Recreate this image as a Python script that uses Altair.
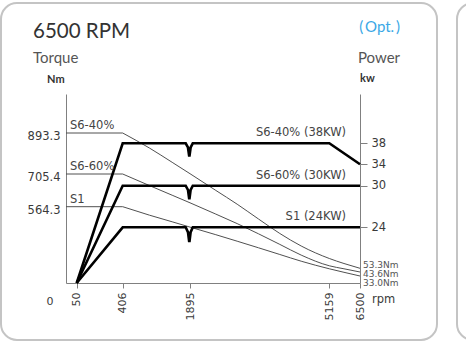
import altair as alt
import pandas as pd

# ---------------- data ----------------
rpm_breaks = [0, 50, 406, 1895, 5159, 6500]
rpm_ticks = [50, 406, 1895, 5159, 6500]
torque_ticks = [564.3, 705.4, 893.3]
torque_breaks = [0, 33.0, 43.6, 53.3, 564.3, 705.4, 893.3, 1072]
power_ticks = [24, 30, 34, 38]
power_breaks = [0, 24, 30, 34, 38, 47.4]

torque_rpm = [0, 406, 1000, 1500, 1895, 2500, 3000, 3500, 4000, 4500, 5159, 5800, 6500]
torque_s6_40 = [893.3, 893.3, 824.1, 759.0, 706.8, 634.6, 575.1, 462.3, 342.0, 238.3, 134.6, 93.1, 53.3]
torque_s6_60 = [705.4, 705.4, 655.3, 613.9, 581.1, 502.9, 424.1, 339.5, 251.6, 162.8, 74.1, 52.0, 43.6]
torque_s1 = [564.3, 564.3, 493.8, 439.1, 395.1, 332.0, 278.1, 223.4, 167.8, 112.2, 52.0, 42.8, 33.0]

power_rpm = [50, 406, 1800, 1850, 1875, 1885, 1910, 1960, 5159, 6500]
power_s6_40 = [0, 38, 38, 37.2, 35.7, 35.7, 37.2, 38, 38, 34]
power_s6_60 = [0, 30, 30, 29.4, 28.2, 28.2, 29.4, 30, 30, 30]
power_s1 = [0, 24, 24, 21.9, 18.1, 18.1, 21.9, 24, 24, 24]

series_names = ["S6-40%", "S6-60%", "S1"]
power_labels = ["S6-40% (38KW)", "S6-60% (30KW)", "S1 (24KW)"]
end_labels = ["53.3Nm", "43.6Nm", "33.0Nm"]

# ---------------- tables ----------------
rows = []
for name, vals in zip(series_names, [torque_s6_40, torque_s6_60, torque_s1]):
    for i, (r, t) in enumerate(zip(torque_rpm, vals)):
        if i <= 1:
            rows.append({"key": name + "-flat", "rpm": r, "torque": t})
        if i >= 1:
            rows.append({"key": name + "-curve", "rpm": r, "torque": t})
df_t = pd.DataFrame(rows)

prow = []
for name, vals in zip(series_names, [power_s6_40, power_s6_60, power_s1]):
    for r, p in zip(power_rpm, vals):
        prow.append({"series": name, "rpm": r, "kw": p})
df_p = pd.DataFrame(prow)

FONT = "DejaVu Sans"
TXT = "#3a3a3a"
AX = "#808080"

x_scale = alt.Scale(domain=rpm_breaks, range=[0, 10.7, 56.7, 124, 263.3, 294], nice=False, zero=False)
t_scale = alt.Scale(domain=torque_breaks, range=[189, 182, 178, 174.3, 112.7, 80, 39, 0], nice=False, zero=False)
p_scale = alt.Scale(domain=power_breaks, range=[189, 133.3, 91.7, 70.3, 49.3, 0], nice=False, zero=False)

x_axis = alt.Axis(values=rpm_ticks, labelAngle=270, labelAlign="right", labelBaseline="middle",
                  tickSize=5, tickColor=AX, domainColor=AX, labelPadding=4, format="d",
                  labelFont=FONT, labelFontSize=11, labelColor=TXT, grid=False, title=None)
x_enc = alt.X("rpm:Q", scale=x_scale, axis=x_axis)

left_axis = alt.Axis(orient="left", values=torque_ticks, format=".1f", tickSize=0, labelPadding=6,
                     labelOffset=3.5, domainColor=AX, labelFont=FONT, labelFontSize=11.5,
                     labelColor=TXT, grid=False, title=None)
right_axis = alt.Axis(orient="right", values=power_ticks, tickSize=7, tickColor=AX, labelPadding=4,
                      domainColor=AX, labelFont=FONT, labelFontSize=11.5, labelColor=TXT,
                      grid=False, title=None)

dummy = pd.DataFrame({"a": [0]})

# card frames
card = alt.Chart(dummy).mark_rect(filled=False, stroke="#c4c4c4", strokeWidth=2, cornerRadius=16).encode(
    x=alt.value(-65), x2=alt.value(371), y=alt.value(-91), y2=alt.value(246))
card2 = alt.Chart(dummy).mark_rect(filled=False, stroke="#c4c4c4", strokeWidth=2, cornerRadius=16).encode(
    x=alt.value(391), x2=alt.value(440), y=alt.value(-91), y2=alt.value(246))

def label(text, x, y, size, color, font="Lato", weight="normal", align="left"):
    return alt.Chart(dummy).mark_text(text=text, align=align, baseline="alphabetic", font=font,
                                      fontSize=size, color=color, fontWeight=weight).encode(
        x=alt.value(x), y=alt.value(y))

title = label("6500 RPM", -33, -56, 20.5, "#333333")
opt = label("(\u2009Opt.\u2009)", 334, -62, 15, "#3aa8e6", align="right")
torque_t = label("Torque", -33, -31, 15, "#555555")
nm_t = label("Nm", -19, -11, 11, "#333333", weight="bold")
power_t = label("Power", 292, -31, 15, "#555555")
kw_t = label("kw", 294, -12, 11, "#333333", weight="bold")

# torque curves
t_lines = alt.Chart(df_t).mark_line(color="#505050", strokeWidth=1, interpolate="monotone").encode(
    x=x_enc, y=alt.Y("torque:Q", scale=t_scale, axis=left_axis), detail="key:N")

# power curves
p_lines = alt.Chart(df_p).mark_line(color="black", strokeWidth=2.6, strokeJoin="miter").encode(
    x=x_enc, y=alt.Y("kw:Q", scale=p_scale, axis=right_axis), detail="series:N")

# left series labels
df_ll = pd.DataFrame({"text": series_names, "rpm": [0, 0, 0], "torque": torque_ticks[::-1]})
left_lbl = alt.Chart(df_ll).mark_text(align="left", baseline="alphabetic", dx=4, dy=-4, font=FONT,
                                      fontSize=11.5, color="#444444").encode(
    x=x_enc, y=alt.Y("torque:Q", scale=t_scale, axis=None), text="text:N")

df_pl = pd.DataFrame({"text": power_labels, "rpm": [6500] * 3, "kw": [38, 30, 24]})
right_lbl = alt.Chart(df_pl).mark_text(align="right", baseline="alphabetic", dx=-14, dy=-7, font=FONT,
                                       fontSize=11.5, color="#444444").encode(
    x=x_enc, y=alt.Y("kw:Q", scale=p_scale, axis=None), text="text:N")

end_ends = [53.3, 43.6, 33.0]
end_layers = []
for txt, val, off in zip(end_labels, end_ends, [-3, 2, 7]):
    d = pd.DataFrame({"text": [txt], "rpm": [6500], "torque": [val]})
    end_layers.append(alt.Chart(d).mark_text(align="left", baseline="middle", dx=3, dy=off, font=FONT,
                                             fontSize=9, color="#555555").encode(
        x=x_enc, y=alt.Y("torque:Q", scale=t_scale, axis=None), text="text:N"))

d0 = pd.DataFrame({"text": ["0"], "rpm": [0], "torque": [0]})
zero_lbl = alt.Chart(d0).mark_text(align="center", baseline="middle", dx=-16, dy=19, font=FONT,
                                   fontSize=11, color=TXT).encode(
    x=x_enc, y=alt.Y("torque:Q", scale=t_scale, axis=None), text="text:N")
drpm = pd.DataFrame({"text": ["rpm"], "rpm": [6500], "torque": [0]})
rpm_lbl = alt.Chart(drpm).mark_text(align="left", baseline="middle", dx=12, dy=17, font=FONT,
                                    fontSize=11.5, color=TXT).encode(
    x=x_enc, y=alt.Y("torque:Q", scale=t_scale, axis=None), text="text:N")

chart = alt.layer(
    card, card2, title, opt, torque_t, nm_t, power_t, kw_t,
    t_lines, p_lines, left_lbl, right_lbl, *end_layers, zero_lbl, rpm_lbl
).resolve_scale(y="independent").properties(
    width=294, height=189,
    padding={"left": 66, "top": 94, "right": 106, "bottom": 60},
    autosize=alt.AutoSizeParams(type="none"),
).configure_view(stroke=None)

chart.save("out.html", embed_options={"renderer": "svg", "actions": False})
